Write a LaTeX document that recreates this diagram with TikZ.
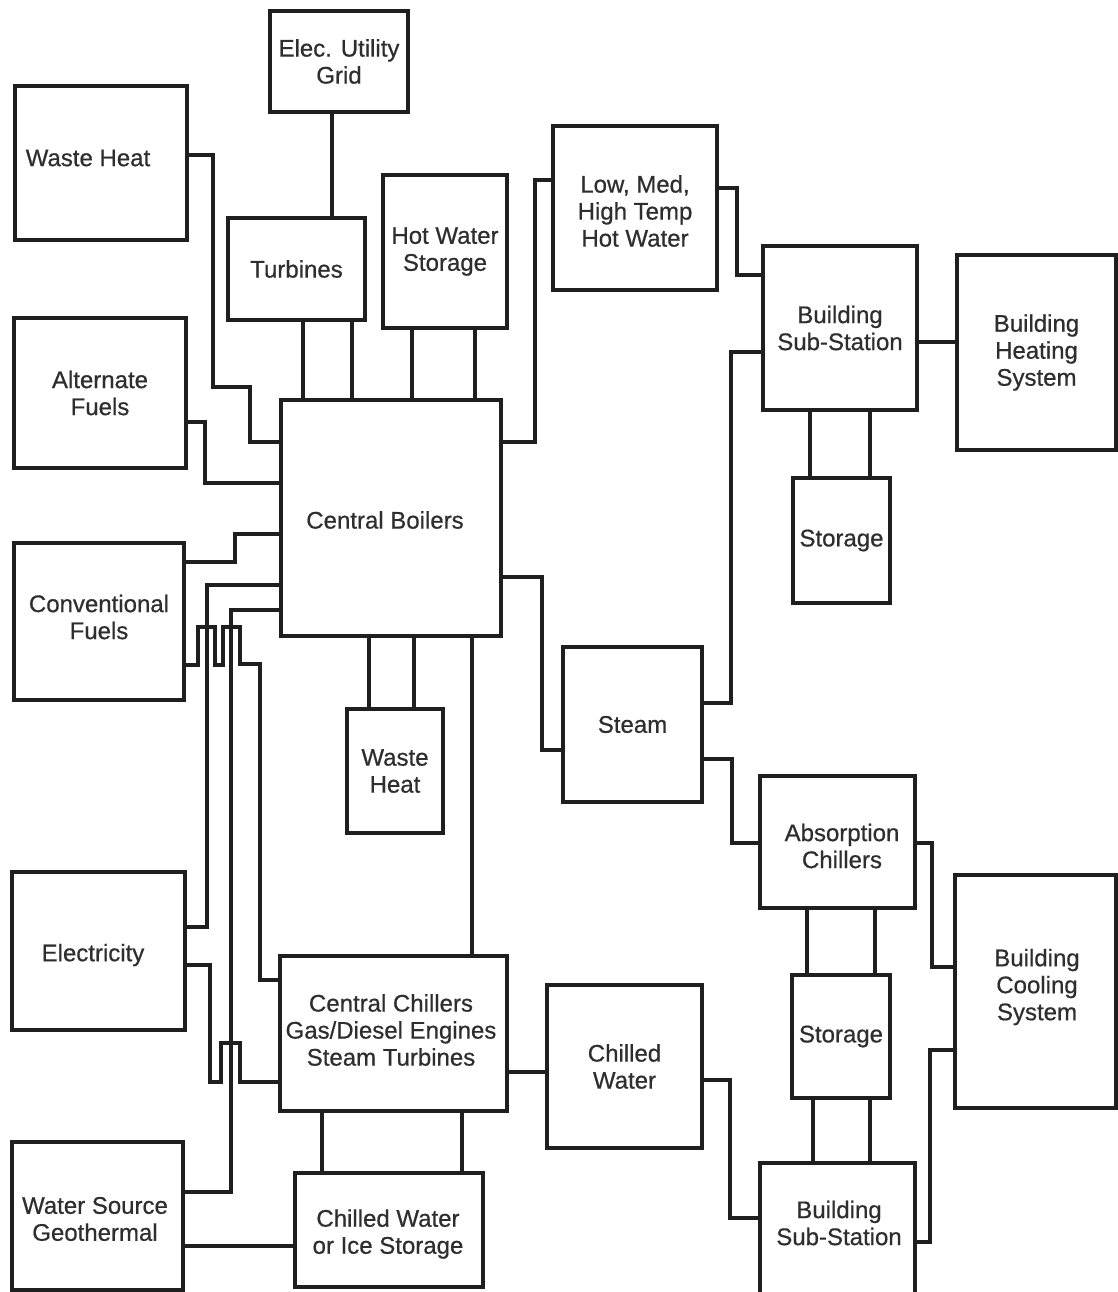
\documentclass[tikz,border=0pt]{standalone}
\usepackage{fontspec}
\setmainfont{Liberation Sans}
\newfontfamily\diagfont[FakeBold=0.6]{Liberation Sans}
\begin{document}
\begin{tikzpicture}[x=1pt,y=-1pt,
  box/.style={draw=black!88, line width=3.2pt, fill=white, inner sep=0pt, outer sep=0pt,
    align=center, font=\diagfont\fontsize{24}{27}\selectfont, text=black!82},
  lbl/.style={inner sep=0pt, align=center, font=\diagfont\fontsize{24}{27}\selectfont, text=black!82},
  wire/.style={draw=black!88, line width=3.2pt, line join=miter}]
\useasboundingbox (0,0) rectangle (1118,1292);
\clip (0,0) rectangle (1118,1292);
\fill[white] (0,0) rectangle (1118,1292);

% ---------- boxes ----------
\node[box, minimum width=138, minimum height=101] (grid) at (339,61.5) {Elec. Utility\\Grid};
\node[box, minimum width=172, minimum height=154] (wh1) at (101,163) {};
\node[lbl] (wh1t) at (88,158) {Waste Heat};
\node[box, minimum width=137, minimum height=102] (turb) at (296.5,269) {Turbines};
\node[box, minimum width=124, minimum height=153] (hws) at (445,251.5) {Hot Water\\Storage};
\node[box, minimum width=164, minimum height=164] (low) at (635,208) {};
\node[lbl] (lowt) at (635,211) {Low, Med,\\High Temp\\Hot Water};
\node[box, minimum width=154, minimum height=164] (bss1) at (840,328) {Building\\Sub-Station};
\node[box, minimum width=159, minimum height=195] (bhs) at (1036.5,352.5) {Building\\Heating\\System};
\node[box, minimum width=97, minimum height=125] (st1) at (841.5,540.5) {Storage};
\node[box, minimum width=172, minimum height=150] (af) at (100,393) {Alternate\\Fuels};
\node[box, minimum width=220, minimum height=236] (cb) at (391,518) {};
\node[lbl] (cbt) at (385,520) {Central Boilers};
\node[box, minimum width=170, minimum height=157] (cf) at (99,621.5) {};
\node[lbl] (cft) at (99,617) {Conventional\\Fuels};
\node[box, minimum width=139, minimum height=155] (steam) at (632.5,724.5) {Steam};
\node[box, minimum width=96, minimum height=124] (wh2) at (395,771) {Waste\\Heat};
\node[box, minimum width=155, minimum height=132] (ac) at (837.5,842) {};
\node[lbl] (act) at (842,846) {Absorption\\Chillers};
\node[box, minimum width=173, minimum height=158] (elec) at (98.5,951) {};
\node[lbl] (elect) at (93,955) {Electricity};
\node[box, minimum width=161, minimum height=233] (bcs) at (1035.5,991.5) {};
\node[lbl] (bcst) at (1037,987) {Building\\Cooling\\System};
\node[box, minimum width=227, minimum height=155] (cc) at (393.5,1033.5) {};
\node[lbl] (cct) at (391,1030) {Central Chillers\\Gas/Diesel Engines\\Steam Turbines};
\node[box, minimum width=155, minimum height=163] (cw) at (624.5,1066.5) {Chilled\\Water};
\node[box, minimum width=98, minimum height=123] (st2) at (841,1036.5) {Storage};
\node[box, minimum width=155, minimum height=147] (bss2) at (837.5,1236.5) {};
\node[lbl] (bss2t) at (839,1223) {Building\\Sub-Station};
\node[box, minimum width=188, minimum height=114] (cwis) at (389,1230) {};
\node[lbl] (cwist) at (388,1234) {Chilled Water\\or Ice Storage};
\node[box, minimum width=171, minimum height=148] (wsg) at (97.5,1216) {};
\node[lbl] (wsgt) at (95,1219) {Water Source\\Geothermal};

% ---------- connectors ----------
% left inputs to central boilers
\draw[wire] (wh1.east |- 0,155) -| (213,387) -| (250,442) -- (cb.west |- 0,442);
\draw[wire] (af.east |- 0,422) -| (205,483) -- (cb.west |- 0,483);
\draw[wire] (cf.east |- 0,562) -| (235,534) -- (cb.west |- 0,534);
\draw[wire] (cb.west |- 0,585) -| (207,927) -- (elec.east |- 0,927);
\draw[wire] (cb.west |- 0,610) -| (231,1192) -- (wsg.east |- 0,1192);
% conventional fuels to central chillers, hopping over two lines
\draw[wire] (cf.east |- 0,665) -- (198,665) -- (198,627) -- (215,627) -- (215,665)
  -- (223,665) -- (223,627) -- (240,627) -- (240,664) -- (260,664) -- (260,980)
  -- (cc.west |- 0,980);
% electricity to central chillers, hopping over one line
\draw[wire] (elec.east |- 0,965) -| (210,1082) -- (221,1082) -- (221,1043)
  -- (240,1043) -- (240,1082) -- (cc.west |- 0,1082);
% top
\draw[wire] (grid.south -| 332,0) -- (turb.north -| 332,0);
\draw[wire] (turb.south -| 303,0) -- (cb.north -| 303,0);
\draw[wire] (turb.south -| 352,0) -- (cb.north -| 352,0);
\draw[wire] (hws.south -| 412,0) -- (cb.north -| 412,0);
\draw[wire] (hws.south -| 475,0) -- (cb.north -| 475,0);
% right of central boilers
\draw[wire] (cb.east |- 0,442) -| (535,180) -- (low.west |- 0,180);
\draw[wire] (low.east |- 0,188) -| (737,275) -- (bss1.west |- 0,275);
\draw[wire] (bss1.east |- 0,342) -- (bhs.west |- 0,342);
\draw[wire] (bss1.south -| 810,0) -- (st1.north -| 810,0);
\draw[wire] (bss1.south -| 870,0) -- (st1.north -| 870,0);
\draw[wire] (cb.east |- 0,577) -| (542,750) -- (steam.west |- 0,750);
\draw[wire] (steam.east |- 0,703) -| (731,352) -- (bss1.west |- 0,352);
\draw[wire] (steam.east |- 0,759) -| (732,843) -- (ac.west |- 0,843);
% below central boilers
\draw[wire] (cb.south -| 369,0) -- (wh2.north -| 369,0);
\draw[wire] (cb.south -| 414,0) -- (wh2.north -| 414,0);
\draw[wire] (cb.south -| 472,0) -- (cc.north -| 472,0);
\draw[wire] (cc.east |- 0,1072) -- (cw.west |- 0,1072);
\draw[wire] (cc.south -| 322,0) -- (cwis.north -| 322,0);
\draw[wire] (cc.south -| 462,0) -- (cwis.north -| 462,0);
\draw[wire] (wsg.east |- 0,1246) -- (cwis.west |- 0,1246);
\draw[wire] (cw.east |- 0,1080) -| (730,1218) -- (bss2.west |- 0,1218);
% cooling chain
\draw[wire] (ac.south -| 807,0) -- (st2.north -| 807,0);
\draw[wire] (ac.south -| 875,0) -- (st2.north -| 875,0);
\draw[wire] (st2.south -| 813,0) -- (bss2.north -| 813,0);
\draw[wire] (st2.south -| 870,0) -- (bss2.north -| 870,0);
\draw[wire] (ac.east |- 0,843) -| (932,967) -- (bcs.west |- 0,967);
\draw[wire] (bss2.east |- 0,1242) -| (930,1050) -- (bcs.west |- 0,1050);
\end{tikzpicture}
\end{document}
